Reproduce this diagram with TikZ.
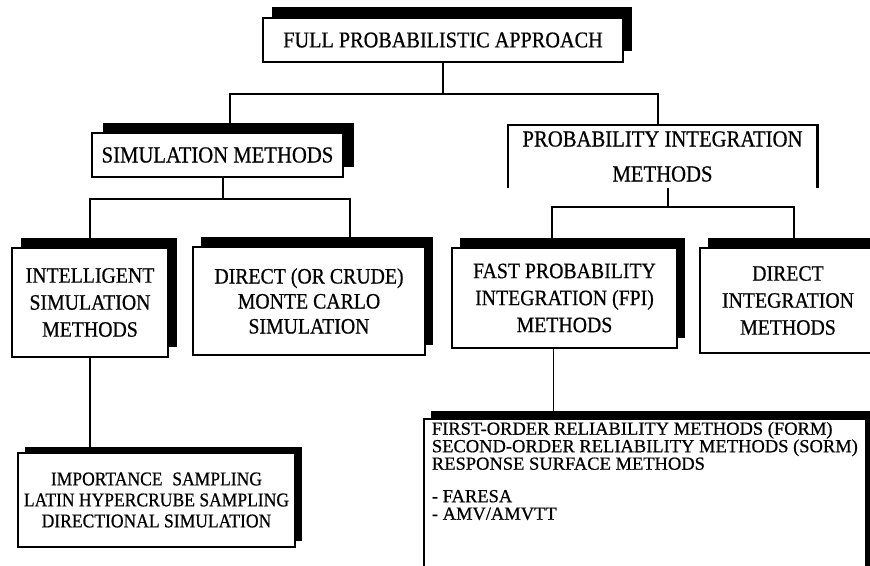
\documentclass[tikz,border=0pt]{standalone}
\usepackage{fontspec}
\setmainfont{Liberation Serif}[FakeStretch=0.9, FakeBold=0.6]
\newfontfamily\listfont{Liberation Serif}[FakeBold=0.6]
\usetikzlibrary{shadows}

\begin{document}
\begin{tikzpicture}[x=1pt, y=-1pt,
    box/.style={draw, line width=1.8pt, fill=white, inner sep=0pt, align=center},
    boxshadow/.style 2 args={general shadow={fill=black, shadow xshift=#1, shadow yshift=#2}},
    link/.style={line width=1.8pt}]
  \useasboundingbox (0,0) rectangle (870,565);

  % top level
  \node[box, boxshadow={9pt}{11pt}, minimum width=360pt, minimum height=44pt,
        font=\fontsize{22.5}{26}\selectfont] (full) at (443,40) {FULL PROBABILISTIC APPROACH};

  % second level
  \node[box, boxshadow={11pt}{10pt}, minimum width=251pt, minimum height=44pt,
        font=\fontsize{23}{26}\selectfont] (sim) at (217.5,155) {SIMULATION METHODS};
  \node[fill=white, inner sep=0pt, align=center, minimum width=309pt, minimum height=63pt,
        font=\fontsize{23}{35}\selectfont] (prob) at (662.5,156.5) {PROBABILITY INTEGRATION\\METHODS};
  \draw[line width=2.6pt] (prob.south west) -- (prob.north west) -- (prob.north east) -- (prob.south east);

  % third level
  \node[box, boxshadow={9pt}{10pt}, minimum width=156pt, minimum height=109pt,
        font=\fontsize{22}{27}\selectfont] (intel) at (90,302.5) {INTELLIGENT\\SIMULATION\\METHODS};
  \node[box, boxshadow={8pt}{10pt}, minimum width=232pt, minimum height=108pt,
        font=\fontsize{22}{25}\selectfont] (mc) at (309,301) {DIRECT (OR CRUDE)\\MONTE CARLO\\SIMULATION};
  \node[box, boxshadow={8pt}{10pt}, minimum width=225pt, minimum height=100pt,
        font=\fontsize{22}{27}\selectfont] (fpi) at (564.5,298) {FAST PROBABILITY\\INTEGRATION (FPI)\\METHODS};
  \node[box, boxshadow={8pt}{10pt}, minimum width=176pt, minimum height=105pt,
        font=\fontsize{22}{27}\selectfont] (dint) at (788,300.5) {DIRECT\\INTEGRATION\\METHODS};

  % bottom level
  \node[box, boxshadow={7pt}{6pt}, minimum width=277pt, minimum height=94pt,
        font=\fontsize{19.5}{21}\selectfont] (samp) at (156.5,500)
        {IMPORTANCE\enspace SAMPLING\\LATIN HYPERCRUBE SAMPLING\\DIRECTIONAL SIMULATION};
  \node[box, boxshadow={7pt}{8pt}, anchor=north west, inner xsep=8pt, inner ysep=3pt,
        font=\listfont\fontsize{18.5}{17.5}\selectfont] (rel) at (423,418)
        {\parbox[t][160pt][t]{426pt}{\raggedright
          FIRST-ORDER RELIABILITY METHODS (FORM)\\
          SECOND-ORDER RELIABILITY METHODS (SORM)\\
          RESPONSE SURFACE METHODS\\[15pt]
          - FARESA\\
          - AMV/AMVTT}};

  % connectors
  \draw[link] (full.south) -- ++(0,31) -| ([xshift=12.5pt]sim.north);
  \draw[link] (full.south) -- ++(0,31) -| ([xshift=-4.5pt]prob.north);
  \draw[link] ([xshift=5.5pt]sim.south) -- ++(0,21) -| (intel.north);
  \draw[link] ([xshift=5.5pt]sim.south) -- ++(0,21) -| ([xshift=41pt]mc.north);
  \draw[link] ([xshift=5.5pt]prob.south) -- ++(0,19) -| ([xshift=-12.5pt]fpi.north);
  \draw[link] ([xshift=5.5pt]prob.south) -- ++(0,19) -| ([xshift=6pt]dint.north);
  \draw[link] (intel.south) -- (intel.south |- samp.north);
  \draw[link] ([xshift=-11pt]fpi.south) -- ([xshift=-11pt]fpi.south |- rel.north);
\end{tikzpicture}
\end{document}
